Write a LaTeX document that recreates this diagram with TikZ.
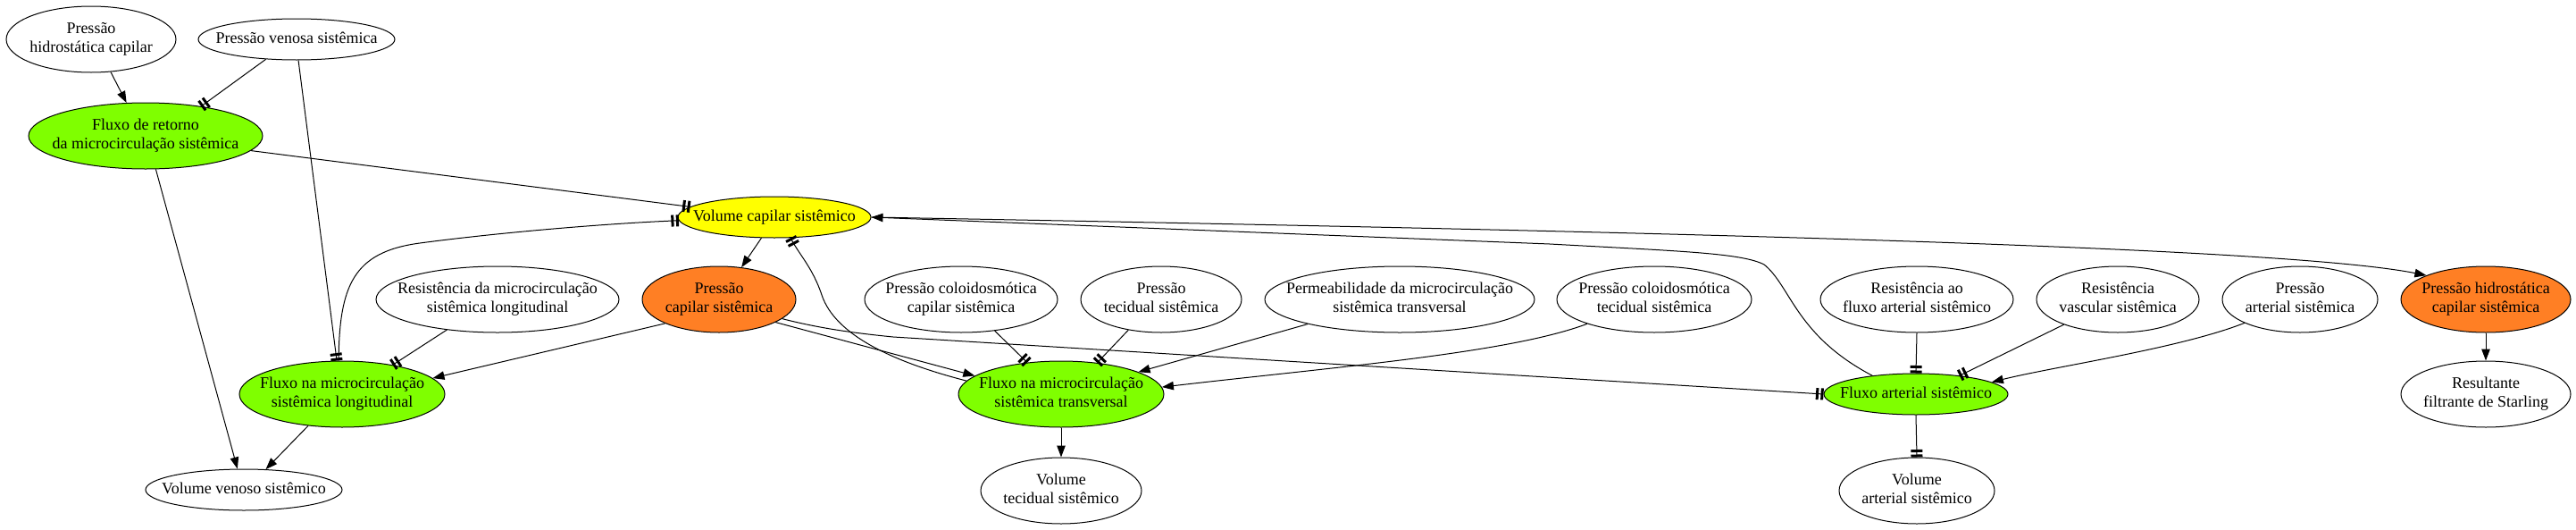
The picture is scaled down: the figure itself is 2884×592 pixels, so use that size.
\documentclass[tikz,border=0pt]{standalone}
\usepackage{fontspec}
\setmainfont{Liberation Serif}
\usetikzlibrary{shapes.geometric,arrows.meta}
\definecolor{gvgreen}{HTML}{7FFF00}
\definecolor{gvyellow}{HTML}{FFFF00}
\definecolor{gvorange}{HTML}{FF7F24}
\newcommand\nodetext[1]{\makebox[0pt]{\begin{tabular}{@{}c@{}}#1\end{tabular}}}
\begin{document}
\begin{tikzpicture}[x=1pt,y=-1pt,
  gnode/.style={ellipse, draw, line width=1pt, inner sep=0pt, fill=white,
    font=\fontsize{18pt}{21pt}\selectfont},
  onel/.style={minimum height=46pt},
  twol/.style={minimum height=74pt},
  greenn/.style={fill=gvgreen},
  yellown/.style={fill=gvyellow},
  orangen/.style={fill=gvorange},
  edge/.style={line width=1pt},
  posarr/.style={edge, -{Triangle[length=13pt,width=9.5pt]}},
  negarr/.style={edge, -{Bar[width=13pt,line width=3pt,sep=2.5pt]Bar[width=13pt,line width=3pt]}}
]
\fill[white] (0,0) rectangle (2884,592);
\useasboundingbox (0,0) rectangle (2884,592);

% nodes
\node[gnode,twol,minimum width=190pt] (n1) at (102,44) {\nodetext{Pressão\\hidrostática capilar}};
\node[gnode,onel,minimum width=220pt] (n2) at (332,44) {\nodetext{Pressão venosa sistêmica}};
\node[gnode,twol,greenn,minimum width=262pt] (n3) at (163,152) {\nodetext{Fluxo de retorno\\da microcirculação sistêmica}};
\node[gnode,onel,yellown,minimum width=216pt] (n4) at (867,243) {\nodetext{Volume capilar sistêmico}};
\node[gnode,twol,orangen,minimum width=172pt] (n5) at (805,335) {\nodetext{Pressão\\capilar sistêmica}};
\node[gnode,twol,minimum width=272pt] (n6) at (557,335) {\nodetext{Resistência da microcirculação\\sistêmica longitudinal}};
\node[gnode,twol,greenn,minimum width=230pt] (n7) at (383,441) {\nodetext{Fluxo na microcirculação\\sistêmica longitudinal}};
\node[gnode,onel,minimum width=220pt] (n8) at (273,548) {\nodetext{Volume venoso sistêmico}};
\node[gnode,twol,minimum width=216pt] (n9) at (1076,335) {\nodetext{Pressão coloidosmótica\\capilar sistêmica}};
\node[gnode,twol,minimum width=180pt] (n10) at (1300,335) {\nodetext{Pressão\\tecidual sistêmica}};
\node[gnode,twol,greenn,minimum width=230pt] (n11) at (1188,441) {\nodetext{Fluxo na microcirculação\\sistêmica transversal}};
\node[gnode,twol,minimum width=180pt] (n12) at (1188,549) {\nodetext{Volume\\tecidual sistêmico}};
\node[gnode,twol,minimum width=302pt] (n13) at (1567,335) {\nodetext{Permeabilidade da microcirculação\\sistêmica transversal}};
\node[gnode,twol,minimum width=218pt] (n14) at (1852,335) {\nodetext{Pressão coloidosmótica\\tecidual sistêmica}};
\node[gnode,twol,minimum width=216pt] (n15) at (2146,335) {\nodetext{Resistência ao\\fluxo arterial sistêmico}};
\node[gnode,onel,greenn,minimum width=206pt] (n16) at (2145,441) {\nodetext{Fluxo arterial sistêmico}};
\node[gnode,twol,minimum width=174pt] (n17) at (2146,549) {\nodetext{Volume\\arterial sistêmico}};
\node[gnode,twol,minimum width=182pt] (n18) at (2371,335) {\nodetext{Resistência\\vascular sistêmica}};
\node[gnode,twol,minimum width=174pt] (n19) at (2575,335) {\nodetext{Pressão\\arterial sistêmica}};
\node[gnode,twol,orangen,minimum width=190pt] (n20) at (2783,335) {\nodetext{Pressão hidrostática\\capilar sistêmica}};
\node[gnode,twol,minimum width=190pt] (n21) at (2783,441) {\nodetext{Resultante\\filtrante de Starling}};

% edges
\draw[posarr] (n1.-59) -- (n3.120);
\draw[negarr] (n2.213) -- (n3.28);
\draw[negarr] (n2.-85) -- (n7.99);
\draw[negarr] (n3.-8) -- (n4.173);
\draw[posarr] (n3.-73) -- (n8.107);
\draw[negarr] (n7.96) .. controls (380,320) and (395,282) .. (470,272)
  .. controls (560,260) and (680,250) .. (n4.182);
\draw[negarr] (n6.211) -- (n7.30);
\draw[posarr] (n5.204) -- (n7.10);
\draw[posarr] (n4.238) -- (n5.55);
\draw[posarr] (n7.223) -- (n8.43);
\draw[negarr] (n11.172) .. controls (1000,405) and (935,375) .. (920,330)
  .. controls (910,300) and (895,285) .. (n4.-52);
\draw[posarr] (n5.-22) -- (n11.168);
\draw[negarr] (n5.-17) .. controls (920,368) and (960,373) .. (1000,377) -- (n16.180);
\draw[negarr] (n9.-43) -- (n11.137);
\draw[negarr] (n10.223) -- (n11.41);
\draw[posarr] (n13.195) -- (n11.16);
\draw[posarr] (n14.200) .. controls (1690,395) and (1500,410) .. (n11.4);
\draw[posarr] (n11.south) -- (n12.north);
\draw[posarr] (n16.157) .. controls (2010,375) and (2005,320) .. (1975,296)
  .. controls (1950,283) and (1880,281) .. (1735,273) -- (n4.east);
\draw[posarr] (n4.east) .. controls (1800,258) and (2550,275) .. (n20.158);
\draw[negarr] (n15.south) -- (n16.north);
\draw[negarr] (n18.205) -- (n16.23);
\draw[posarr] (n19.203) .. controls (2440,390) and (2300,410) .. (n16.9);
\draw[negarr] (n16.south) -- (n17.north);
\draw[posarr] (n20.south) -- (n21.north);
\end{tikzpicture}
\end{document}
